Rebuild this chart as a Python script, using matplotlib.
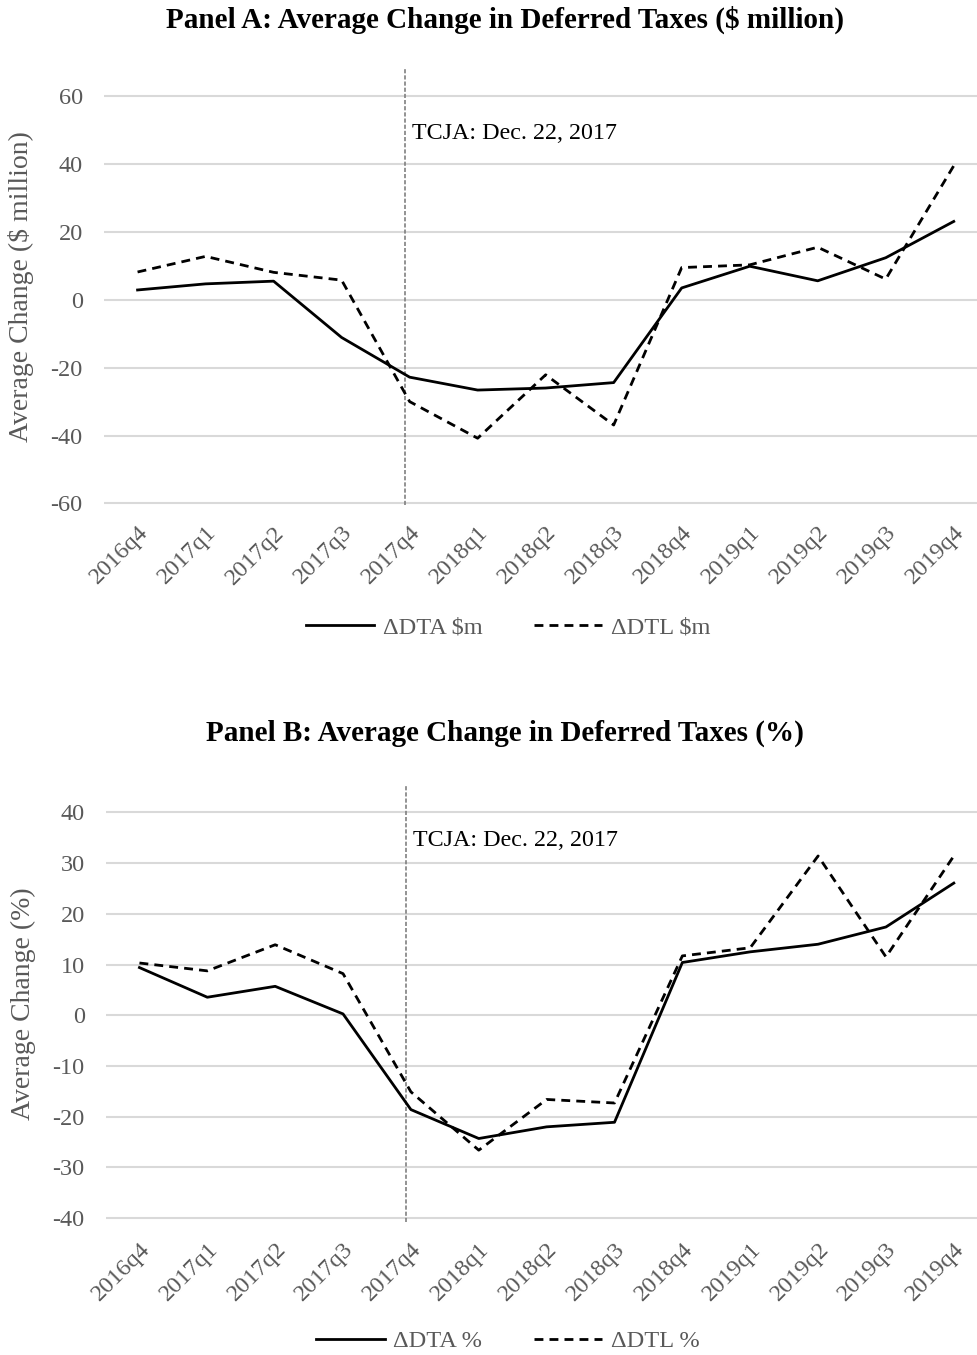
import matplotlib
matplotlib.use('Agg')
import matplotlib.pyplot as plt
import numpy as np

plt.rcParams['font.family'] = ['Liberation Serif', 'DejaVu Serif']

quarters = ['2016q4', '2017q1', '2017q2', '2017q3', '2017q4', '2018q1', '2018q2',
            '2018q3', '2018q4', '2019q1', '2019q2', '2019q3', '2019q4']

# Panel A: $ million
dta_m = [2.9, 4.7, 5.5, -11.1, -22.8, -26.6, -26.0, -24.4, 3.5, 9.9, 5.6, 12.4, 23.1]
dtl_m = [8.2, 12.8, 8.1, 5.8, -30.0, -40.8, -22.1, -36.9, 9.5, 10.3, 15.5, 6.1, 39.5]

# Panel B: %
dta_pct = [9.4, 3.55, 5.7, 0.26, -18.6, -24.3, -22.0, -21.1, 10.4, 12.5, 14.0, 17.4, 26.05]
dtl_pct = [10.3, 8.75, 13.9, 8.2, -15.1, -26.6, -16.6, -17.3, 11.7, 13.3, 31.4, 11.5, 31.4]

tcja_pos = 3.93   # Dec. 22, 2017, just before 2017q4
grid_col = '#d9d9d9'
txt_col = '#595959'

fig = plt.figure(figsize=(9.77, 13.55), dpi=100)


def panel(rect, dta, dtl, yticks, ylim, ylabel, title, title_y, labels, leg_y, note_y):
    ax = fig.add_axes(rect)
    x = np.arange(len(quarters))
    l1, = ax.plot(x, dta, color='black', lw=2.0)
    l2, = ax.plot(x, dtl, color='black', lw=2.0, linestyle=(0, (3.2, 2.2)))
    ax.axvline(tcja_pos, color='#808080', lw=1.2, linestyle=(0, (2.5, 1.2)), zorder=1)
    ax.set_xlim(-0.5, 12.5)
    ax.set_ylim(*ylim)
    ax.set_yticks(yticks)
    ax.set_yticklabels([str(v) for v in yticks])
    ax.set_xticks(x)
    ax.set_xticklabels(quarters, rotation=45, ha='right', rotation_mode='anchor')
    ax.grid(axis='y', color=grid_col, lw=1.5)
    ax.set_axisbelow(True)
    for s in ax.spines.values():
        s.set_visible(False)
    ax.tick_params(axis='both', length=0, labelsize=17.5, labelcolor=txt_col)
    ax.tick_params(axis='x', pad=12)
    ax.tick_params(axis='y', pad=15)
    ax.set_ylabel(ylabel, fontsize=20, color=txt_col)
    ax.yaxis.set_label_coords(-0.079, 0.5)
    ax.text(tcja_pos + 0.1, note_y, 'TCJA: Dec. 22, 2017',
            fontsize=17.3, color='black', va='center')
    fig.text(0.517, title_y, title, ha='center', va='center', fontsize=21, fontweight='bold')
    fig.legend([l1, l2], labels, loc='center', bbox_to_anchor=(0.52, leg_y), ncol=2,
               frameon=False, fontsize=17.6, handlelength=2.8, columnspacing=2.1,
               handletextpad=0.35, labelcolor=txt_col)
    return ax


panel([0.106, 0.627, 0.905, 0.323], dta_m, dtl_m, [-60, -40, -20, 0, 20, 40, 60],
      (-60.6, 68.4), 'Average Change ($ million)',
      'Panel A: Average Change in Deferred Taxes ($ million)', 0.985,
      ['ΔDTA $m', 'ΔDTL $m'], 0.537, 49)

panel([0.108, 0.098, 0.903, 0.3227], dta_pct, dtl_pct, [-40, -30, -20, -10, 0, 10, 20, 30, 40],
      (-40.8, 45.4), 'Average Change (%)',
      'Panel B: Average Change in Deferred Taxes (%)', 0.459,
      ['ΔDTA %', 'ΔDTL %'], 0.0103, 34.5)

fig.savefig('out.png', dpi=100)
